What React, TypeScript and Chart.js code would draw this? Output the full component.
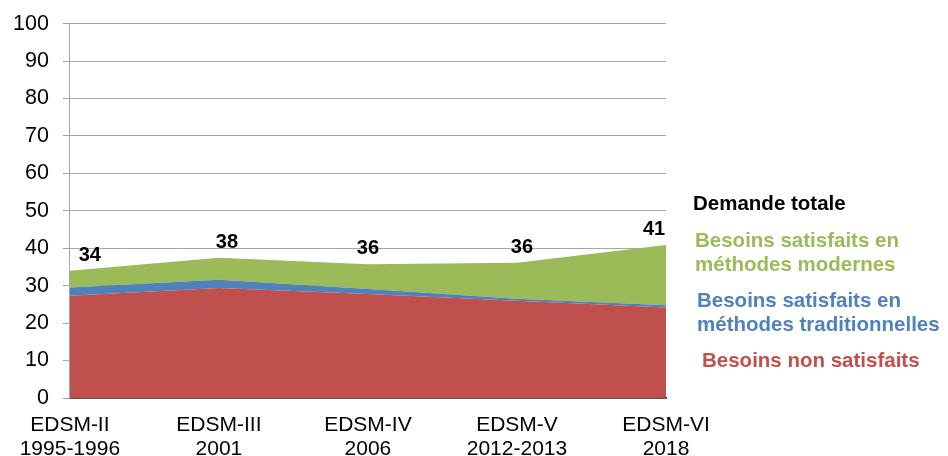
import React, { useEffect, useRef } from "react";
import { Chart, registerables } from "chart.js";

Chart.register(...registerables);

const categories: string[][] = [
  ["EDSM-II", "1995-1996"],
  ["EDSM-III", "2001"],
  ["EDSM-IV", "2006"],
  ["EDSM-V", "2012-2013"],
  ["EDSM-VI", "2018"],
];
const nonSatisfaits = [27.3, 29.4, 27.8, 26.0, 24.2];
const traditionnelles = [2.2, 2.2, 1.3, 0.5, 0.6];
const modernes = [4.5, 5.9, 6.6, 9.6, 16.1];
const totalLabels = ["34", "38", "36", "36", "41"];

const RED = "#C0504D";
const BLUE = "#4F81BD";
const GREEN = "#9BBB59";
const FONT = "'Liberation Sans', Arial, sans-serif";

const labelShift = [20, 8, 0, 5, -12];

const totalsPlugin = {
  id: "totals",
  afterDatasetsDraw(chart: any) {
    const { ctx } = chart;
    const meta = chart.getDatasetMeta(2);
    ctx.save();
    ctx.font = `bold 20px ${FONT}`;
    ctx.fillStyle = "#000";
    ctx.textBaseline = "alphabetic";
    ctx.textAlign = "center";
    meta.data.forEach((pt: any, i: number) => {
      ctx.fillText(totalLabels[i], pt.x + labelShift[i], pt.y - 10);
    });
    ctx.restore();
  },
};

export default function App() {
  const ref = useRef<HTMLCanvasElement>(null);
  useEffect(() => {
    document.body.style.margin = "0";
    const chart = new Chart(ref.current!, {
      type: "line",
      data: {
        labels: categories,
        datasets: [
          {
            label: "Besoins non satisfaits",
            data: nonSatisfaits,
            backgroundColor: RED,
            borderColor: RED,
            borderWidth: 0,
            fill: "origin",
            pointRadius: 0,
            tension: 0,
          },
          {
            label: "Besoins satisfaits en méthodes traditionnelles",
            data: traditionnelles,
            backgroundColor: BLUE,
            borderColor: BLUE,
            borderWidth: 0,
            fill: "-1",
            pointRadius: 0,
            tension: 0,
          },
          {
            label: "Besoins satisfaits en méthodes modernes",
            data: modernes,
            backgroundColor: GREEN,
            borderColor: GREEN,
            borderWidth: 0,
            fill: "-1",
            pointRadius: 0,
            tension: 0,
          },
        ],
      },
      options: {
        animation: false,
        responsive: false,
        layout: { padding: { top: 10, right: 282, left: -1, bottom: -20 } },
        plugins: { legend: { display: false }, tooltip: { enabled: false } },
        scales: {
          x: {
            offset: false,
            grid: { display: false, drawTicks: false },
            border: { display: true, color: "#000", width: 1.5 },
            ticks: {
              color: "#000",
              font: { family: FONT, size: 21, lineHeight: "24px" },
              maxRotation: 0,
              autoSkip: false,
              padding: 15,
            },
          },
          y: {
            stacked: true,
            min: 0,
            max: 100,
            ticks: {
              stepSize: 10,
              color: "#000",
              font: { family: FONT, size: 21.5, lineHeight: 0.9 },
              padding: 14,
            },
            grid: { color: "#A6A6A6", tickLength: 7, lineWidth: 1 },
            border: { color: "#A6A6A6" },
          },
        },
      },
      plugins: [totalsPlugin],
    });
    return () => chart.destroy();
  }, []);

  const legendItem = (text: string[], color: string, left: number, top: number) => (
    <div
      style={{
        position: "absolute",
        left,
        top,
        color,
        fontFamily: FONT,
        fontWeight: "bold",
        fontSize: 20.5,
        lineHeight: "24px",
        whiteSpace: "nowrap",
      }}
    >
      {text.map((t, i) => (
        <div key={i}>{t}</div>
      ))}
    </div>
  );

  return (
    <div style={{ position: "relative", width: 948, height: 456, overflow: "hidden" }}>
      <canvas ref={ref} width={948} height={456} />
      {legendItem(["Demande totale"], "#000", 693, 191)}
      {legendItem(["Besoins satisfaits en", "méthodes modernes"], GREEN, 695, 228)}
      {legendItem(["Besoins satisfaits en", "méthodes traditionnelles"], BLUE, 697, 288)}
      {legendItem(["Besoins non satisfaits"], RED, 702, 348)}
    </div>
  );
}
